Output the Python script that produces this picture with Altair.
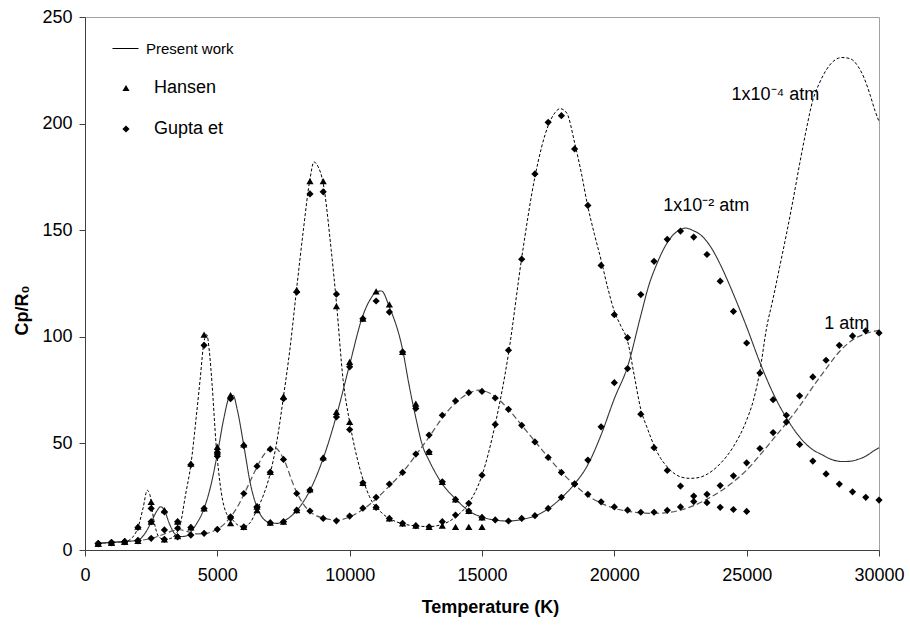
import altair as alt
import pandas as pd

FONT = "Liberation Sans"

# ---------------- data ----------------
# temperature grid of the tabulated reference data (K)
T_STEP = 500

# Gupta et al. diamonds
GUPTA_1E4 = [3.0, 3.5, 3.9, 10.6, 19.5, 5.0, 6.2, 40.0, 96.0, 45.0,
             15.0, 10.8, 20.0, 36.5, 71.0, 121.0, 167.0, 168.0, 120.0, 56.5,
             31.5, 20.0, 14.8, 12.5, 11.4, 10.9, 13.3, 16.4, 21.9, 35.1,
             58.9, 93.7, 136.4, 176.4, 200.6, 203.7, 188.1, 161.6, 133.5, 110.4,
             99.6, 63.7, 48.0, 37.3, 30.0, 25.3, 22.2, 20.0, 19.0, 18.1]
GUPTA_1E2 = [3.0, 3.5, 3.9, 4.3, 13.3, 17.9, 13.3, 10.6, 19.5, 44.0,
             71.0, 49.0, 20.3, 12.8, 13.3, 18.7, 28.1, 42.9, 62.4, 85.9,
             108.5, 116.8, 111.6, 92.9, 66.4, 46.0, 32.0, 23.7, 18.3, 15.3,
             14.1, 13.6, 14.8, 16.1, 19.5, 24.7, 30.9, 42.2, 57.8, 78.5,
             85.1, 119.8, 135.4, 145.7, 149.6, 146.8, 138.6, 126.1, 111.9, 97.1,
             83.0, 70.5, 60.0, 49.5, 41.7, 35.7, 30.9, 27.3, 24.7, 23.4]
GUPTA_1ATM = [3.0, 3.5, 3.9, 4.5, 5.5, 9.4, 10.2, 7.0, 7.8, 9.7,
              15.6, 26.5, 39.3, 47.3, 42.5, 26.5, 18.3, 14.8, 13.7, 15.9,
              19.6, 24.7, 30.9, 36.4, 45.0, 53.9, 63.2, 69.9, 73.8, 74.4,
              71.3, 66.0, 58.5, 50.7, 43.4, 36.4, 31.0, 26.1, 22.6, 20.2,
              18.7, 17.7, 17.7, 18.6, 20.2, 22.7, 26.1, 30.2, 34.8, 40.9,
              47.6, 55.1, 63.2, 72.3, 81.2, 89.0, 96.0, 100.4, 102.8, 101.8]

# Hansen triangles
HANSEN_1E4 = [3.0, 3.5, 3.9, 11.0, 22.6, 5.0, 6.5, 40.5, 101.0, 48.4,
              12.6, 10.9, 18.7, 36.7, 72.0, 122.0, 173.0, 173.0, 114.4, 60.1,
              31.5, 20.3, 14.8, 12.5, 11.4, 10.9, 11.4, 10.9, 10.9, 10.9]
HANSEN_1E2 = [3.0, 3.5, 3.9, 4.3, 13.3, 18.7, 13.3, 10.6, 19.5, 47.0,
              72.6, 49.5, 20.3, 12.8, 13.3, 18.7, 28.4, 43.4, 64.8, 88.2,
              108.5, 121.3, 115.2, 92.9, 68.7, 46.0, 32.0, 23.7, 18.3, 15.3]

# Present work curves
LINE_1E4_T = [500, 1000, 1500, 1800, 2000, 2200, 2350, 2450, 2600, 2800,
              3000, 3200, 3400, 3600, 3800, 4000, 4200, 4350, 4500, 4600,
              4700, 4800, 4950, 5150, 5350, 5550, 5800, 6000, 6250, 6500,
              6750, 7000, 7250, 7500, 7750, 8000, 8250, 8500, 8650, 8800,
              9000, 9300, 9500, 9750, 10000, 10400, 10750, 11250, 11750, 12000,
              12500, 13000, 13500, 14000, 14500, 15000, 15500, 16000, 16500, 17000,
              17500, 17750, 17950, 18200, 18500, 18750, 19000, 19250, 19500, 19750,
              20000, 20250, 20500, 20750, 21000, 21250, 21500, 21750, 22000, 22250,
              22500, 22850, 23200, 23500, 24000, 24500, 25000, 25250, 25500, 25750,
              26000, 26250, 26500, 26750, 27000, 27250, 27500, 27750, 28000, 28300,
              28600, 28900, 29200, 29450, 29650, 29850, 30000]
LINE_1E4_CP = [3.0, 3.5, 3.9, 6.0, 10.5, 20.0, 28.0, 26.0, 14.0, 6.0,
               5.0, 5.3, 7.0, 12.0, 26.0, 40.0, 62.0, 80.0, 98.0, 101.0,
               93.0, 78.0, 50.0, 27.0, 17.0, 14.5, 11.5, 10.9, 13.0, 19.0,
               26.0, 36.0, 51.0, 72.0, 95.0, 123.0, 150.0, 174.0, 182.0, 180.0,
               172.0, 141.0, 116.0, 80.0, 60.0, 37.5, 25.0, 17.0, 13.3, 12.3,
               11.3, 11.0, 12.0, 15.5, 22.0, 35.0, 59.0, 92.0, 137.0, 175.0,
               199.0, 205.0, 207.0, 205.0, 191.0, 177.0, 161.0, 148.0, 136.0, 123.0,
               112.0, 105.0, 98.0, 82.0, 66.0, 57.0, 49.0, 43.0, 39.0, 36.0,
               34.3, 33.6, 34.0, 35.5, 40.5, 48.5, 61.0, 70.0, 84.0, 104.0,
               118.0, 133.0, 148.0, 164.0, 181.0, 197.0, 211.0, 219.0, 225.0, 229.5,
               231.0, 230.5, 227.0, 221.0, 214.0, 206.0, 201.0]

LINE_1E2_T = [500, 1000, 1500, 2000, 2250, 2500, 2700, 2860, 3000, 3200,
              3400, 3600, 3800, 4000, 4200, 4500, 4750, 5000, 5250, 5450,
              5600, 5750, 6000, 6250, 6500, 6750, 7000, 7250, 7500, 7750,
              8000, 8500, 9000, 9500, 10000, 10500, 10800, 11000, 11200, 11500,
              12000, 12250, 12500, 12750, 13000, 13500, 14000, 14500, 15000, 15500,
              16000, 16500, 17000, 17500, 18000, 18500, 19000, 19500, 20000, 20500,
              21000, 21300, 21600, 21900, 22200, 22450, 22700, 22950, 23350, 23700,
              24000, 24500, 25000, 25500, 26000, 26500, 27000, 27500, 27800, 28200,
              28600, 28900, 29200, 29500, 29800, 30000]
LINE_1E2_CP = [3.2, 3.6, 4.0, 4.6, 7.5, 13.0, 18.0, 20.3, 18.5, 12.0,
               7.5, 6.3, 6.5, 8.5, 12.0, 19.5, 30.0, 45.0, 62.0, 71.5,
               72.5, 66.0, 49.0, 31.0, 20.0, 14.5, 12.8, 12.5, 13.5, 15.5,
               18.5, 28.0, 43.0, 63.0, 87.0, 110.0, 118.0, 121.0, 121.5, 114.0,
               94.0, 77.0, 62.0, 49.0, 42.0, 31.0, 24.0, 18.3, 15.5, 14.0,
               13.6, 14.3, 16.0, 19.3, 24.5, 31.0, 40.0, 54.0, 71.0, 86.0,
               110.0, 124.0, 134.0, 142.0, 147.5, 150.0, 151.0, 150.0, 146.8, 141.0,
               134.0, 120.0, 104.6, 88.0, 73.5, 62.0, 53.0, 47.0, 45.0, 42.5,
               41.5, 41.6, 42.5, 44.0, 46.5, 48.0]

LINE_1ATM_T = [500, 1000, 1500, 2000, 2500, 3000, 3300, 3600, 3900, 4200,
               4500, 4800, 5000, 5250, 5500, 5750, 6000, 6250, 6500, 6750,
               7000, 7200, 7400, 7600, 7800, 8000, 8250, 8500, 8750, 9000,
               9500, 10000, 10500, 11000, 11500, 12000, 12500, 13000, 13500, 14000,
               14500, 14900, 15300, 15600, 16000, 16500, 17000, 17500, 18000, 18500,
               19000, 19500, 20000, 20500, 21000, 21500, 22000, 22500, 23000, 23500,
               24000, 24500, 25000, 25500, 26000, 26500, 27000, 27500, 28000, 28500,
               29000, 29500, 30000]
LINE_1ATM_CP = [3.0, 3.5, 3.9, 4.4, 5.4, 7.5, 9.0, 9.5, 8.5, 7.6,
                7.6, 8.6, 9.8, 12.0, 15.5, 20.0, 26.0, 32.5, 39.0, 44.5,
                47.5, 47.8, 45.0, 40.0, 33.0, 27.0, 21.5, 18.0, 16.0, 15.0,
                14.0, 15.5, 19.0, 24.0, 30.0, 36.5, 44.5, 53.0, 62.0, 69.0,
                73.5, 75.0, 73.5, 71.0, 66.0, 58.5, 51.0, 43.5, 36.5, 30.5,
                25.5, 22.0, 19.5, 18.2, 17.4, 17.2, 17.5, 18.7, 20.8, 23.8,
                27.5, 32.0, 37.5, 44.5, 52.0, 59.5, 67.5, 76.5, 85.0, 93.0,
                98.5, 101.5, 103.0]

# curve labels
ANN_TEXT = ["1x10\u207b\u2074 atm", "1x10\u207b\u00b2 atm", "1 atm"]
ANN_T = [24430, 21850, 27930]
ANN_CP = [213.5, 161.5, 106.0]

SERIES = ["1e-4", "1e-2", "1 atm"]
X_TICKS = [0, 5000, 10000, 15000, 20000, 25000, 30000]
Y_TICKS = [0, 50, 100, 150, 200, 250]

# ---------------- tables ----------------
line_rows = []
for name, ts, cps in [("1e-4", LINE_1E4_T, LINE_1E4_CP),
                      ("1e-2", LINE_1E2_T, LINE_1E2_CP),
                      ("1 atm", LINE_1ATM_T, LINE_1ATM_CP)]:
    for t, c in zip(ts, cps):
        line_rows.append({"T": t, "Cp": c, "series": name, "leg": "Present work"})
lines_df = pd.DataFrame(line_rows)

pt_rows = []
for src, vals in [("Gupta et", GUPTA_1E4), ("Gupta et", GUPTA_1E2), ("Gupta et", GUPTA_1ATM),
                  ("Hansen", HANSEN_1E4), ("Hansen", HANSEN_1E2)]:
    for i, v in enumerate(vals):
        pt_rows.append({"T": T_STEP * (i + 1), "Cp": v, "source": src})
pts_df = pd.DataFrame(pt_rows)

ann_df = pd.DataFrame({"T": ANN_T, "Cp": ANN_CP, "label": ANN_TEXT})

x_enc = alt.X("T:Q", scale=alt.Scale(domain=[0, 30000], nice=False, zero=False),
              axis=alt.Axis(values=X_TICKS, format="d", title="Temperature (K)",
                            labelFlush=False, labelOverlap=False, labelPadding=10,
                            titleX=405, titleY=57, titleBaseline="middle",
                            titleAnchor="middle", titleAlign="center"))
y_enc = alt.Y("Cp:Q", scale=alt.Scale(domain=[0, 250], nice=False),
              axis=alt.Axis(values=Y_TICKS, title="Cp/R\u2080", labelOverlap=False,
                            labelPadding=7,
                            titleX=-63, titleY=293, titleAngle=-90,
                            titleBaseline="middle", titleAlign="center"))

lines = alt.Chart(lines_df).mark_line(interpolate="monotone").encode(
    x=x_enc, y=y_enc,
    detail="series:N",
    stroke=alt.Stroke("series:N", scale=alt.Scale(domain=SERIES, range=["#000000", "#333333", "#555555"]),
                      legend=None),
    strokeDash=alt.StrokeDash("series:N", scale=alt.Scale(domain=SERIES, range=[[3, 2], [1, 0], [6, 3]]),
                              legend=None),
    strokeWidth=alt.StrokeWidth("series:N", scale=alt.Scale(domain=SERIES, range=[1.0, 1.2, 1.0]),
                                legend=None),
    opacity=alt.Opacity("leg:N", scale=alt.Scale(domain=["Present work"], range=[1]),
                        legend=alt.Legend(title=None, orient="none", legendX=27, legendY=18,
                                          symbolType="stroke", symbolStrokeColor="black",
                                          symbolStrokeWidth=1, symbolSize=676,
                                          labelFontSize=15, labelOffset=7, labelFont=FONT,
                                          labelColor="black")),
)

points = alt.Chart(pts_df).mark_point(filled=True, color="black", opacity=1, size=52).encode(
    x=x_enc, y=y_enc,
    shape=alt.Shape("source:N", scale=alt.Scale(domain=["Hansen", "Gupta et"],
                                                range=["triangle-up", "diamond"]),
                    legend=alt.Legend(title=None, orient="none", legendX=32, legendY=62,
                                      labelFontSize=18, labelOffset=19, rowPadding=23,
                                      symbolFillColor="black", symbolStrokeColor="black",
                                      symbolOpacity=1, symbolSize=52, labelFont=FONT,
                                      labelColor="black")),
)

labels = alt.Chart(ann_df).mark_text(align="left", baseline="middle", fontSize=18,
                                      font=FONT, color="black").encode(
    x="T:Q", y="Cp:Q", text="label:N")

chart = alt.layer(lines, points, labels).properties(
    width=794, height=533,
    autosize=alt.AutoSizeParams(type="none"),
    padding={"left": 85, "top": 17, "right": 31, "bottom": 80},
    background="white",
).configure_view(
    stroke="#a0a0a0", strokeWidth=1
).configure_axis(
    domainColor="#404040", tickColor="#404040", tickSize=6, grid=False,
    labelFont=FONT, labelFontSize=18, labelColor="black",
    titleFont=FONT, titleFontSize=18, titleFontWeight="bold", titleColor="black",
)

chart.save("out.html", embed_options={"renderer": "svg", "actions": False})
